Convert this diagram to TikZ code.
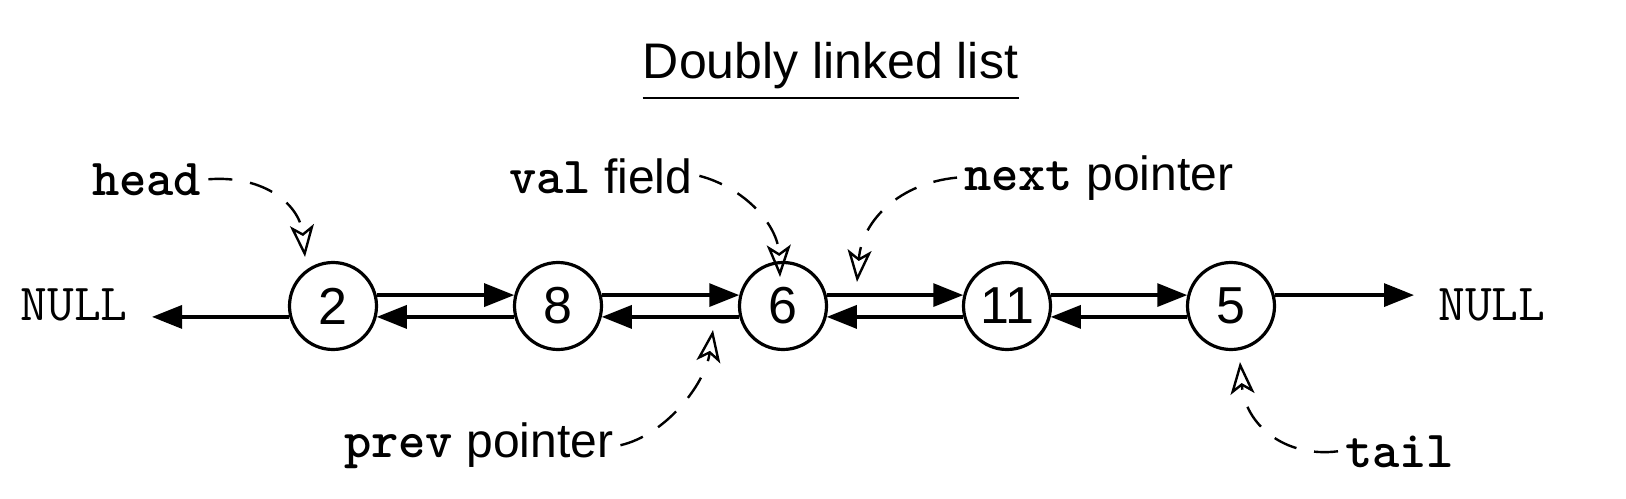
\documentclass[tikz,border=0pt]{standalone}
\usepackage{fontspec}
\setmainfont{Liberation Sans}
\usetikzlibrary{arrows.meta}
\newcommand{\mytt}[1]{{\fontsize{26}{30}\selectfont\ttfamily\bfseries #1}}
\begin{document}
\begin{tikzpicture}[x=0.5pt,y=-0.5pt,
  elem/.style={circle,draw,line width=1.6pt,minimum size=43.5pt,inner sep=0pt,font=\fontsize{26}{30}\selectfont},
  link/.style={line width=1.6pt,-{Triangle[length=15pt,width=11.5pt]}},
  lbl/.style={anchor=base west,font=\fontsize{24}{28}\selectfont},
  nul/.style={font=\fontsize{26}{30}\selectfont\ttfamily,inner xsep=12pt},
  note/.style={line width=1.2pt,dash pattern=on 12pt off 9pt,-{Stealth[open,length=16pt,width=12pt,inset=4pt]}}
]
\useasboundingbox (0,0) rectangle (1626,498);

\node[anchor=base,font=\fontsize{25}{30}\selectfont,inner xsep=0pt,inner ysep=4.75pt] (title) at (830.5,78) {Doubly linked list};
\draw[line width=1pt] (title.south west) -- (title.south east);

\node[elem] (n2) at (333,306) {2};
\node[elem] (n8) at (558,306) {8};
\node[elem] (n6) at (783,306) {6};
\node[elem] (n11) at (1007,306) {11};
\node[elem] (n5) at (1231,306) {5};

\node[nul,anchor=base east] (nullL) at (152,320) {NULL};
\node[nul,anchor=base west] (nullR) at (1414,320) {NULL};

\draw[link] (n2.14) -- (n8.166);
\draw[link] (n8.14) -- (n6.166);
\draw[link] (n6.14) -- (n11.166);
\draw[link] (n11.14) -- (n5.166);
\draw[link] (n8.194) -- (n2.346);
\draw[link] (n6.194) -- (n8.346);
\draw[link] (n11.194) -- (n6.346);
\draw[link] (n5.194) -- (n11.346);
\draw[link] (n2.194) -- (n2.194 -| nullL.east);
\draw[link] (n5.14) -- (n5.14 -| nullR.west);

\node[lbl] (head) at (85,195) {\mytt{head}};
\node[lbl] (val) at (502,193) {\mytt{val} field};
\node[lbl] (next) at (957,190) {\mytt{next} pointer};
\node[lbl] (prev) at (337,457) {\mytt{prev} pointer};
\node[lbl] (tail) at (1338,467) {\mytt{tail}};

\coordinate (headtip) at (305,257);
\coordinate (valtip) at (780,277);
\coordinate (nexttip) at (857,282);
\coordinate (prevtip) at (713,330);
\coordinate (tailtip) at (1240,362);

\draw[note] (head.east) .. controls (265,175) and (300,205) .. (headtip);
\draw[note] (val.east) .. controls (745,188) and (778,225) .. (valtip);
\draw[note] (next.west) .. controls (900,183) and (862,220) .. (nexttip);
\draw[note] (prev.east) .. controls (665,435) and (705,385) .. (prevtip);
\draw[note] (tail.west) .. controls (1285,458) and (1245,425) .. (tailtip);
\end{tikzpicture}
\end{document}
